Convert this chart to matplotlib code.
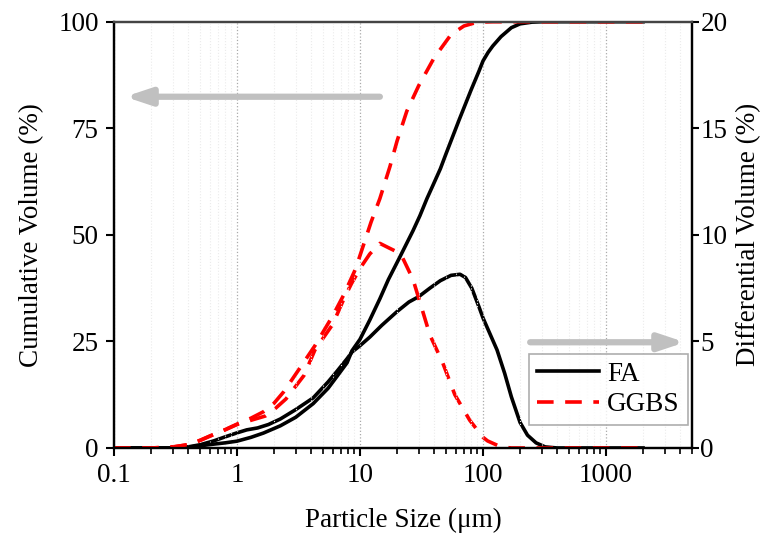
import numpy as np
import matplotlib
matplotlib.use("Agg")
import matplotlib.pyplot as plt
from matplotlib.ticker import FixedLocator, LogLocator, NullFormatter

plt.rcParams['font.family'] = ['Liberation Serif', 'DejaVu Serif']

# FA cumulative volume (%) vs particle size (um)
fa_cum_x = [0.1, 0.2, 0.3, 0.4, 0.5, 0.6, 0.8, 1.0, 1.3, 1.64, 2.25, 3.0, 4.16, 5.5, 6.5,
            7.85, 8.6, 10, 12, 14.5, 17, 21, 27, 30.7, 35, 39, 45, 50, 64, 80, 93, 100,
            110, 120, 140, 170, 200, 250, 300, 2000]
fa_cum_y = [0, 0, 0, 0.2, 0.5, 0.8, 1.2, 1.6, 2.5, 3.5, 5.2, 7.2, 10.4, 14.0, 16.8,
            20.0, 22.8, 25.5, 30.0, 35.0, 39.5, 44.7, 51.0, 54.5, 58.5, 61.5, 65.5, 69.0,
            77.0, 84.0, 88.5, 90.8, 92.8, 94.3, 96.5, 98.6, 99.5, 99.9, 100, 100]

# FA differential volume (%)
fa_diff_x = [0.1, 0.3, 0.4, 0.5, 0.645, 0.8, 1.0, 1.2, 1.47, 1.8, 2.25, 3.0, 4.16, 5.5,
             6.5, 7.85, 8.6, 10, 12, 15, 20, 25, 30, 37, 45, 55, 65, 72, 81, 93, 100,
             115, 130, 150, 170, 200, 230, 270, 320, 400, 2000]
fa_diff_y = [0, 0, 0.05, 0.15, 0.33, 0.52, 0.71, 0.85, 0.94, 1.1, 1.36, 1.8, 2.35, 3.1,
             3.6, 4.19, 4.5, 4.8, 5.2, 5.75, 6.4, 6.85, 7.1, 7.5, 7.85, 8.1, 8.15, 8.0,
             7.5, 6.6, 6.1, 5.3, 4.6, 3.5, 2.4, 1.2, 0.6, 0.24, 0.05, 0, 0]

# GGBS cumulative volume (%)
gg_cum_x = [0.1, 0.2, 0.3, 0.4, 0.5, 0.6, 0.8, 1.0, 1.3, 1.64, 2.0, 2.4, 3.2, 4.3, 6.0,
            7.4, 9.2, 10.5, 12.3, 14.5, 17.5, 20, 24, 30, 40, 55, 70, 90, 120, 2000]
gg_cum_y = [0, 0, 0.2, 0.8, 1.8, 2.8, 4.3, 5.6, 7.0, 8.5, 10.5, 13.2, 18.5, 24.0, 31.0,
            36.0, 42.0, 47.0, 53.0, 58.5, 66.0, 72.0, 79.0, 85.0, 91.5, 97.0, 99.0,
            99.9, 100, 100]

# GGBS differential volume (%)
gg_diff_x = [0.1, 0.2, 0.3, 0.4, 0.5, 0.6, 0.8, 1.0, 1.3, 1.7, 2.0, 2.5, 3.5, 4.3, 6.0,
             7.4, 8.5, 10.2, 12, 14.5, 17, 20, 22.3, 27, 32, 37, 47, 59, 78, 100, 109,
             140, 170, 2000]
gg_diff_y = [0, 0, 0.05, 0.15, 0.35, 0.55, 0.85, 1.1, 1.3, 1.5, 1.8, 2.3, 3.4, 4.6, 5.8,
             7.0, 7.7, 8.5, 9.1, 9.6, 9.4, 9.2, 8.9, 7.9, 6.5, 5.3, 4.0, 2.5, 1.3, 0.5,
             0.33, 0.05, 0, 0]

xticks = [0.1, 1, 10, 100, 1000]
xticklabels = ['0.1', '1', '10', '100', '1000']
fs = 19.5

fig = plt.figure(figsize=(7.75, 5.43), dpi=100)
ax = fig.add_axes([0.1471, 0.175, 0.7458, 0.785])
ax2 = ax.twinx()

lw = 2.6
red_dash = (0, (4.6, 3.2))
l1, = ax.plot(fa_cum_x, fa_cum_y, color='black', lw=lw, label='FA')
l2, = ax.plot(gg_cum_x, gg_cum_y, color='#ff0000', lw=lw, ls=red_dash, label='GGBS')
ax2.plot(fa_diff_x, fa_diff_y, color='black', lw=lw)
ax2.plot(gg_diff_x, gg_diff_y, color='#ff0000', lw=lw, ls=red_dash)

ax.set_xscale('log')
ax.set_xlim(0.1, 5000)
ax.set_ylim(0, 100)
ax2.set_ylim(0, 20)
ax.xaxis.set_major_locator(FixedLocator(xticks))
ax.set_xticklabels(xticklabels)
ax.xaxis.set_minor_locator(LogLocator(base=10, subs=np.arange(2, 10)))
ax.xaxis.set_minor_formatter(NullFormatter())
ax.set_yticks([0, 25, 50, 75, 100])
ax2.set_yticks([0, 5, 10, 15, 20])

ax.grid(which='major', axis='x', ls=':', color='#aaaaaa', lw=0.9)
ax.grid(which='minor', axis='x', ls=':', color='#ebebeb', lw=0.8)

for a in (ax, ax2):
    a.tick_params(which='major', direction='out', length=6, width=1.5, labelsize=fs, pad=5)
    a.tick_params(which='minor', direction='out', length=4, width=1.2)
    for s in a.spines.values():
        s.set_linewidth(1.6)
    a.spines['top'].set_color('#444444')
ax.tick_params(top=False, right=False)
ax2.tick_params(axis='y', which='major', length=5, pad=1)

ax.set_xlabel('Particle Size (μm)', fontsize=fs, labelpad=14)
ax.set_ylabel('Cumulative Volume (%)', fontsize=fs, labelpad=10)
ax2.set_ylabel('Differential Volume (%)', fontsize=fs, labelpad=6)

arrow_style = dict(arrowstyle='-|>,head_length=1.5,head_width=0.5', color='#c0c0c0',
                   lw=4.5, shrinkA=0, shrinkB=0)
ax.annotate('', xy=(0.019, 0.824), xytext=(0.46, 0.824), xycoords='axes fraction',
            textcoords='axes fraction', arrowprops=arrow_style)
ax.annotate('', xy=(0.988, 0.248), xytext=(0.72, 0.248), xycoords='axes fraction',
            textcoords='axes fraction', arrowprops=arrow_style)

leg = ax.legend(handles=[l1, l2], loc='lower right', bbox_to_anchor=(0.993, 0.053),
                fontsize=fs, frameon=True, fancybox=False, handlelength=2.3,
                borderpad=0.3, labelspacing=0.2, handletextpad=0.3, borderaxespad=0)
leg.get_frame().set_edgecolor('#999999')
leg.get_frame().set_linewidth(1.2)
leg.set_zorder(5)
ax.set_zorder(ax2.get_zorder() + 1)
ax.patch.set_visible(False)

fig.savefig('out.png', dpi=100)
